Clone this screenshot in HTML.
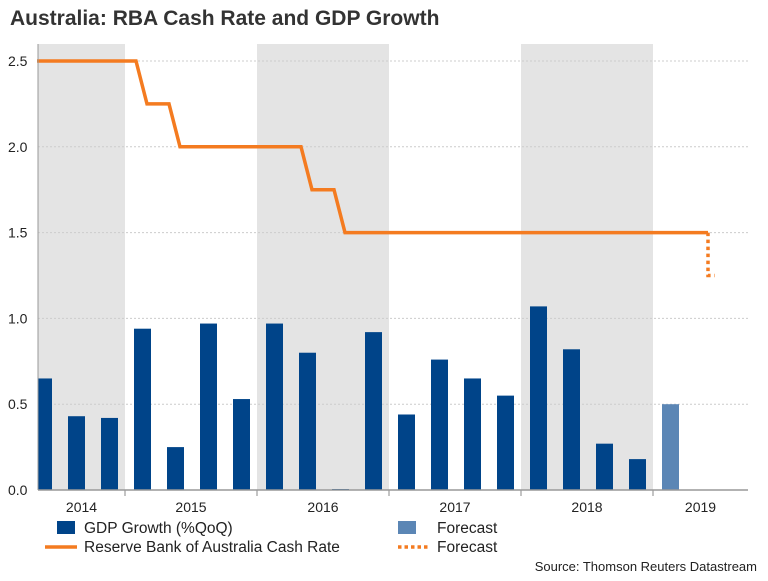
<!DOCTYPE html>
<html><head><meta charset="utf-8"><style>
body{margin:0;background:#fff;font-family:"Liberation Sans",Arial,sans-serif;}
svg text{font-family:"Liberation Sans",Arial,sans-serif;}
</style></head><body>
<svg id="c" width="768" height="576" xmlns="http://www.w3.org/2000/svg">
<defs><clipPath id="pc"><rect x="38" y="40" width="710" height="460"/></clipPath></defs>
<text x="10" y="25" font-size="21" font-weight="bold" fill="#333">Australia: RBA Cash Rate and GDP Growth</text>
<g id="bg"></g><g id="grid"></g><g id="bars" clip-path="url(#pc)"></g><g id="lines"></g><g id="axes"></g>
<g>
<rect x="57" y="521" width="18" height="13" fill="#004489"/>
<text x="84" y="533" font-size="15.5" fill="#222">GDP Growth (%QoQ)</text>
<rect x="398" y="521" width="18" height="13" fill="#5b86b5"/>
<text x="437" y="533" font-size="15.5" fill="#222">Forecast</text>
<line x1="45" y1="547" x2="77" y2="547" stroke="#f47b20" stroke-width="3.5"/>
<text x="84" y="552" font-size="15.5" fill="#222">Reserve Bank of Australia Cash Rate</text>
<line x1="398" y1="547" x2="430" y2="547" stroke="#f47b20" stroke-width="3.5" stroke-dasharray="3.5,3"/>
<text x="437" y="552" font-size="15.5" fill="#222">Forecast</text>
</g>
<text x="757" y="571" font-size="13" fill="#222" text-anchor="end">Source: Thomson Reuters Datastream</text>
</svg>
<script>
const gdpQuarters=[1,2,3,4,5,6,7,8,9,10,11,12,13,14,15,16,17,18,19];
const gdpValues=[0.65,0.43,0.42,0.94,0.25,0.97,0.53,0.97,0.80,0.005,0.92,0.44,0.76,0.65,0.55,1.07,0.82,0.27,0.18];
const fcQuarters=[20];
const fcValues=[0.50];
const rateMonths=[4,13,14,16,17,28,29,31,32,65];
const rateValues=[2.5,2.5,2.25,2.25,2.0,2.0,1.75,1.75,1.5,1.5];
const rateFcMonths=[65,65,65.6];
const rateFcValues=[1.5,1.25,1.25];
const yTicks=[0,0.5,1.0,1.5,2.0,2.5];
const yTickLabels=["0.0","0.5","1.0","1.5","2.0","2.5"];
const years=["2014","2015","2016","2017","2018","2019"];

const NS="http://www.w3.org/2000/svg";
const L=38,R=748,B=490;
function xm(m){return -7+11*m;}
function xq(q){return xm(3*q+1.5);}
function y(v){return B-v*171.6;}
function mk(tag,attrs,parent){const e=document.createElementNS(NS,tag);for(const k in attrs)e.setAttribute(k,attrs[k]);document.getElementById(parent).appendChild(e);return e;}

years.forEach((yr,i)=>{
  const x0=Math.max(L,xm(12*i)),x1=Math.min(R,xm(12*i+12));
  if(i%2===0){const r=mk('rect',{x:x0,y:44,width:x1-x0,height:B-44,fill:'#e4e4e4'},'bg');
    
    }
  const t=mk('text',{x:(x0+x1)/2,y:512,'font-size':14,fill:'#222','text-anchor':'middle'},'axes');
  t.textContent=yr;
  
  
  if(i>0){const tk=mk('line',{x1:xm(12*i),x2:xm(12*i),y1:B,y2:B+6,stroke:'#888'},'axes');
    
    }
});
yTicks.forEach((v,i)=>{
  if(v>0){const g=mk('line',{x1:L,x2:R,y1:y(v),y2:y(v),stroke:'#ccc','stroke-dasharray':'2,2'},'grid');
    
    }
  const t=mk('text',{x:8,y:y(v)+5,'font-size':14,fill:'#222'},'axes');
  t.textContent=yTickLabels[i];
  
  
});
const ax=mk('line',{x1:L,x2:R,y1:B,y2:B,stroke:'#999','stroke-width':1.5},'axes');


const ay=mk('line',{x1:L,x2:L,y1:44,y2:B,stroke:'#999'},'axes');



function bar(q,v,col,name){
  const h=Math.max(1,B-y(v));
  const r=mk('rect',{x:xq(q)-7.5,y:B-h,width:17,height:h,fill:col},'bars');
  
  
}
gdpQuarters.forEach((q,i)=>bar(q,gdpValues[i],'#004489','gdp-bar'));
fcQuarters.forEach((q,i)=>bar(q,fcValues[i],'#5b86b5','gdp-forecast-bar'));

const p1=mk('polyline',{points:rateMonths.map((m,i)=>xm(m)+','+y(rateValues[i])).join(' '),fill:'none',stroke:'#f47b20','stroke-width':3.5},'lines');


const p2=mk('polyline',{points:rateFcMonths.map((m,i)=>xm(m)+','+y(rateFcValues[i])).join(' '),fill:'none',stroke:'#f47b20','stroke-width':3.5,'stroke-dasharray':'3.5,3.5'},'lines');


</script>
</body></html>
